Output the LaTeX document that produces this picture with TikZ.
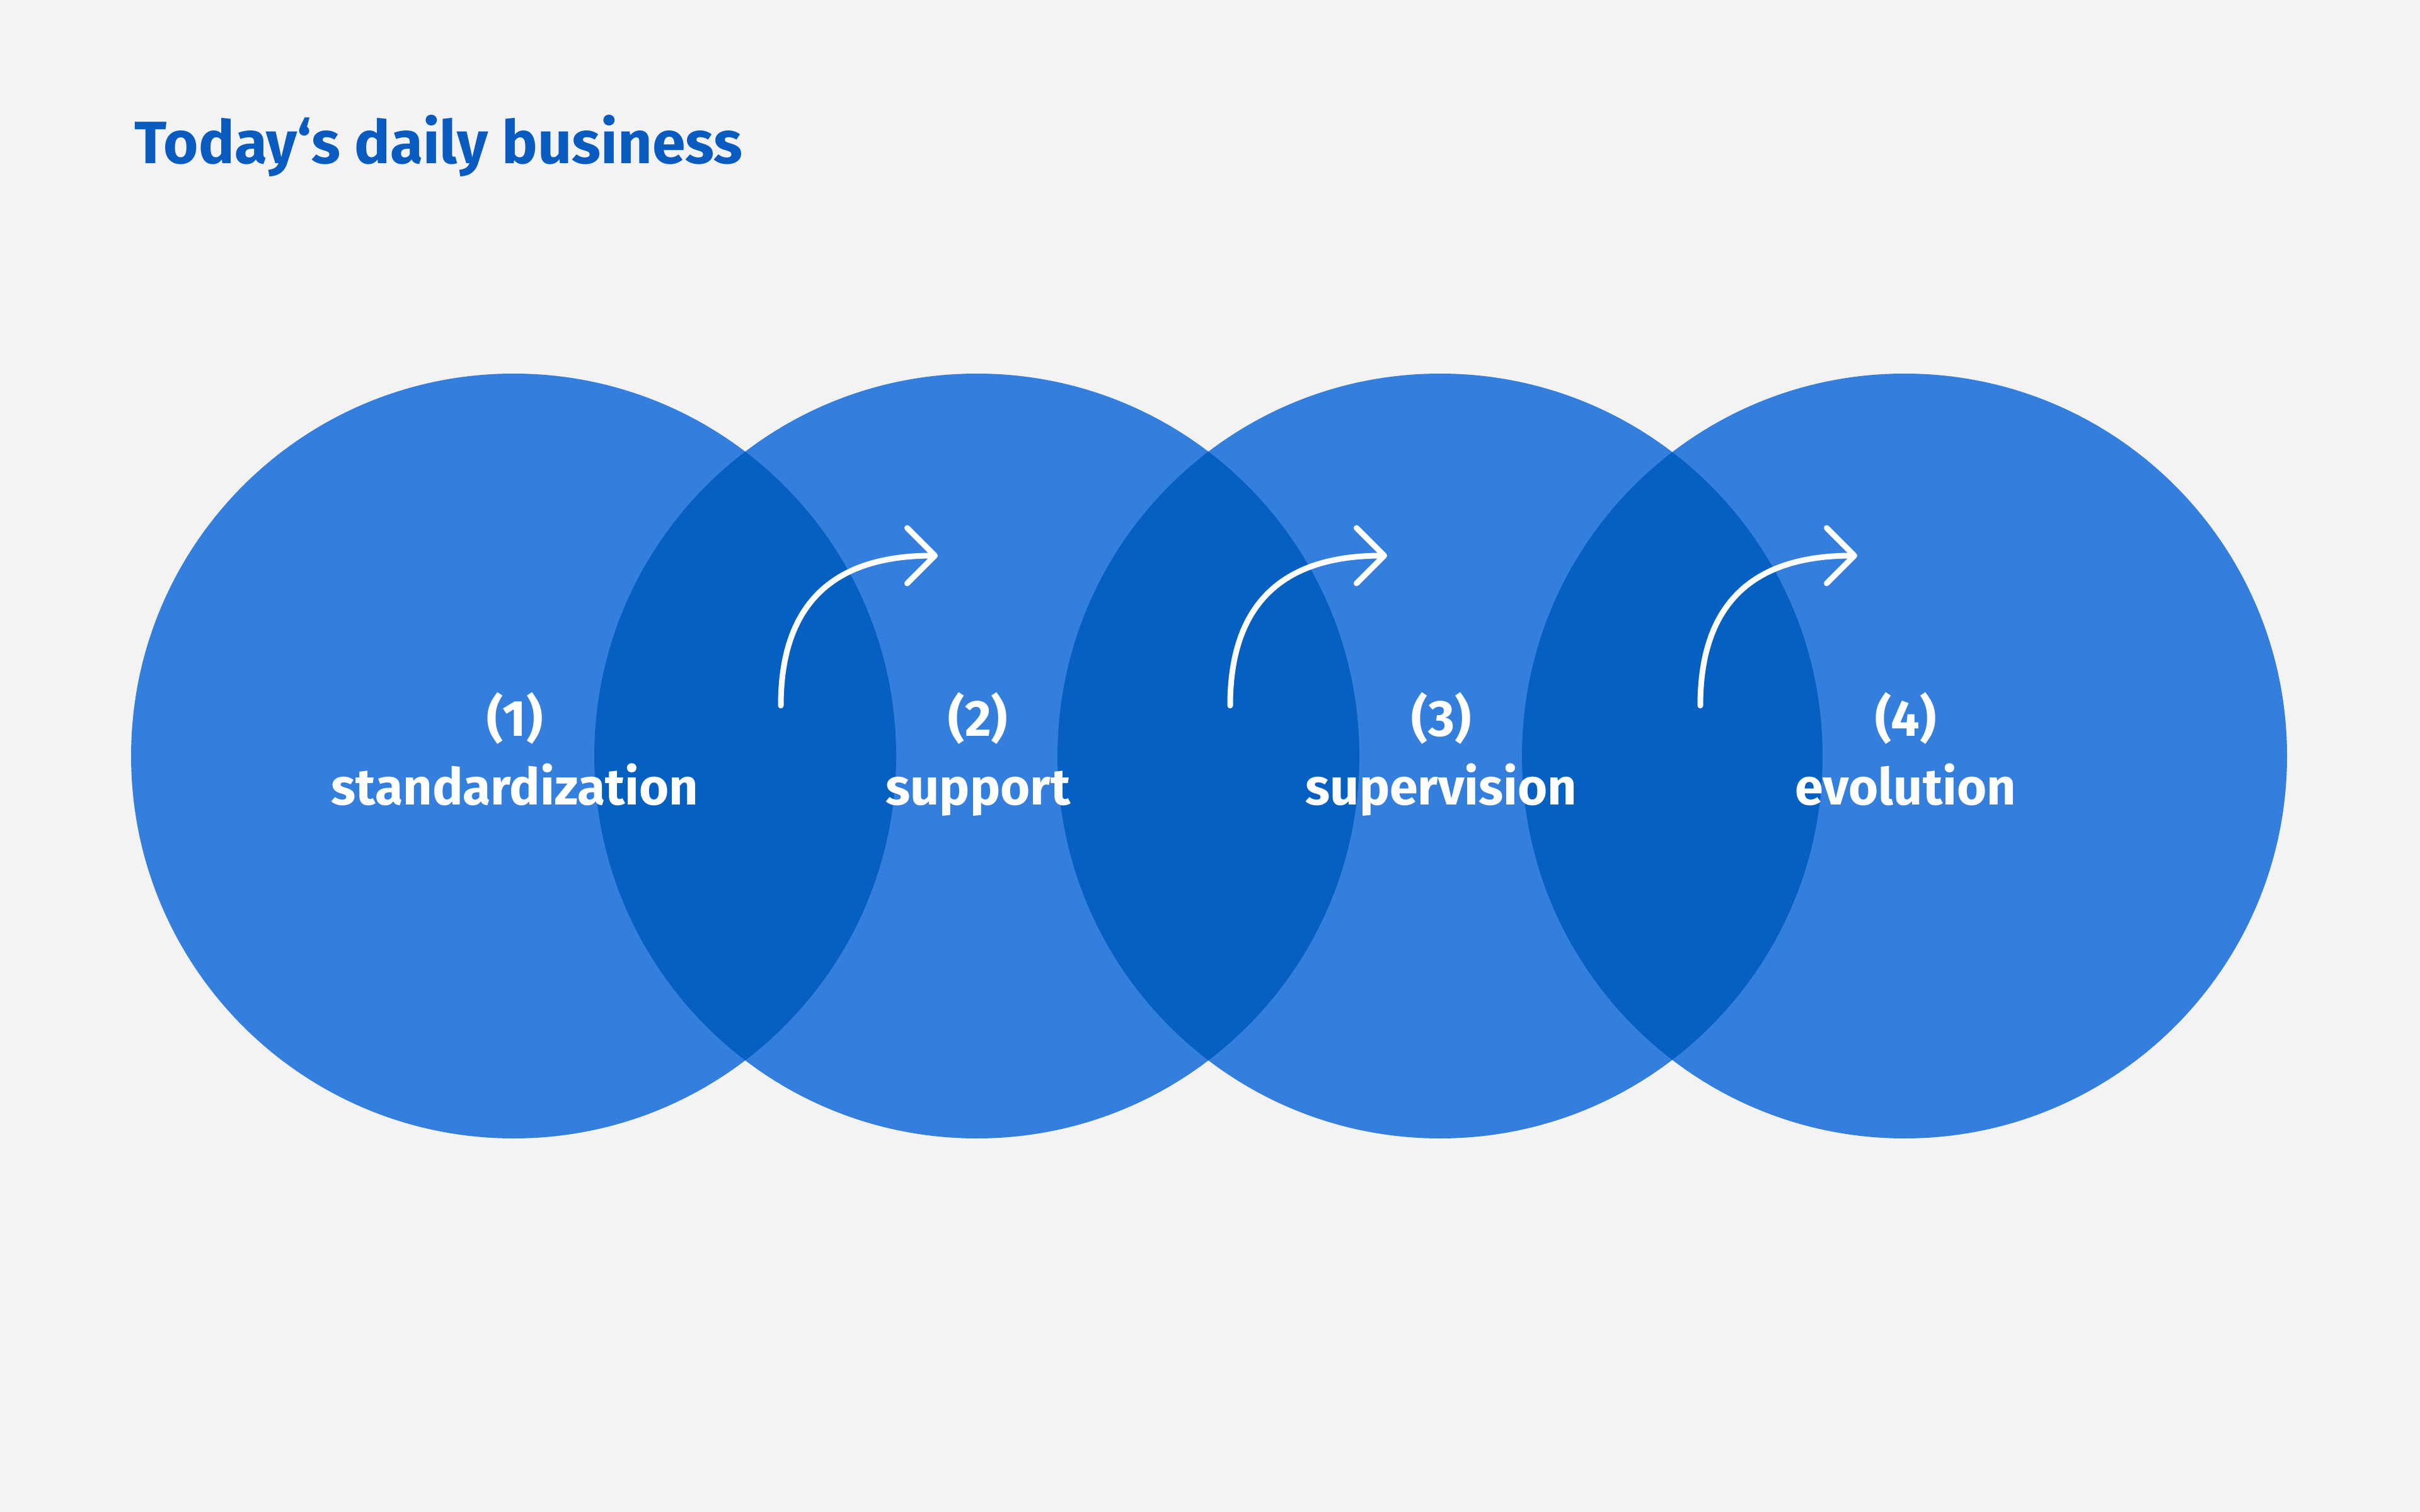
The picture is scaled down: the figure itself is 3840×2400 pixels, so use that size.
\documentclass[tikz,border=0pt]{standalone}
\usepackage{fontspec}
\setmainfont{Fira Sans}[Numbers=Lining]
\usetikzlibrary{arrows.meta,calc}
\definecolor{bgc}{HTML}{F3F3F3}
\definecolor{lightblue}{HTML}{347FDE}
\definecolor{darkblue}{HTML}{0560C2}
\definecolor{titleblue}{HTML}{0A5BC0}
\begin{document}
\begin{tikzpicture}[x=0.1mm,y=-0.1mm,
  numlabel/.style={text=white,font=\fontsize{23}{27}\selectfont\bfseries,anchor=base,inner sep=0pt},
  wordlabel/.style={text=white,font=\fontsize{23}{27}\selectfont\bfseries,anchor=base,inner sep=0pt},
  flowarrow/.style={draw=white,line width=0.9mm,line cap=round,line join=round,
    -{Straight Barb[length=4.4mm,width=8.8mm,round]}}]
\fill[bgc] (0,0) rectangle (3840,2400);
\useasboundingbox (0,0) rectangle (3840,2400);
\coordinate (c1) at (815,1200);
\coordinate (c2) at (1550,1200);
\coordinate (c3) at (2285,1200);
\coordinate (c4) at (3022,1200);
\foreach \c in {c1,c2,c3,c4}{\fill[lightblue] (\c) circle[radius=60.7mm];}
\begin{scope}\clip (c1) circle[radius=60.7mm]; \fill[darkblue] (c2) circle[radius=60.7mm];\end{scope}
\begin{scope}\clip (c2) circle[radius=60.7mm]; \fill[darkblue] (c3) circle[radius=60.7mm];\end{scope}
\begin{scope}\clip (c3) circle[radius=60.7mm]; \fill[darkblue] (c4) circle[radius=60.7mm];\end{scope}
\node[anchor=base west,inner sep=0pt,text=titleblue,font=\fontsize{27}{32}\selectfont\bfseries] (title) at (213,260) {Today‘s daily business};
\node[numlabel] (n1) at (817,1168) {(1)};
\node[wordlabel] (w1) at (817,1277) {standardization};
\node[numlabel] (n2) at (1552,1168) {(2)};
\node[wordlabel] (w2) at (1552,1277) {support};
\node[numlabel] (n3) at (2287,1168) {(3)};
\node[wordlabel] (w3) at (2287,1277) {supervision};
\node[numlabel] (n4) at (3024,1168) {(4)};
\node[wordlabel] (w4) at (3024,1277) {evolution};
\coordinate (a1s) at (1239,1120); \coordinate (a1e) at (1488,882);
\coordinate (a2s) at (1952,1120); \coordinate (a2e) at (2201,882);
\coordinate (a3s) at (2698,1120); \coordinate (a3e) at (2947,882);
\draw[flowarrow] (a1s) .. controls ($(a1s)+(0,-185)$) and ($(a1e)+(-140,0)$) .. (a1e);
\draw[flowarrow] (a2s) .. controls ($(a2s)+(0,-185)$) and ($(a2e)+(-140,0)$) .. (a2e);
\draw[flowarrow] (a3s) .. controls ($(a3s)+(0,-185)$) and ($(a3e)+(-140,0)$) .. (a3e);
\end{tikzpicture}
\end{document}
